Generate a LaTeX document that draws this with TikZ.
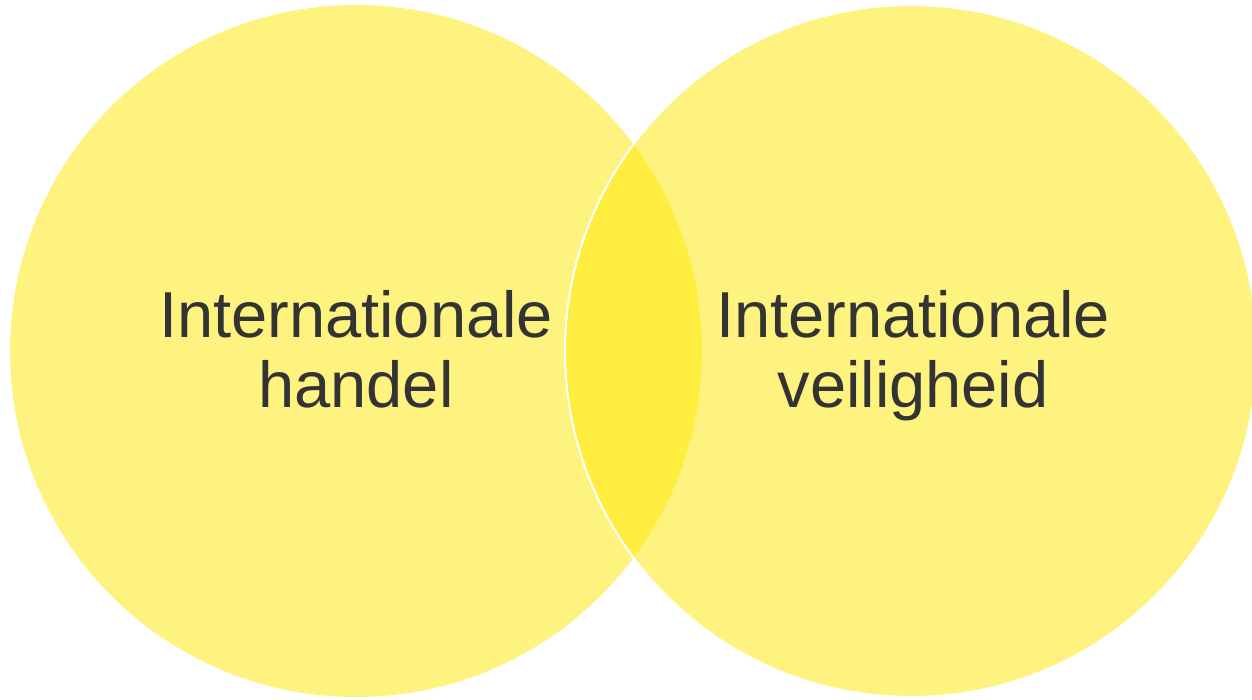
\documentclass[tikz,border=0pt]{standalone}
\usepackage{fontspec}
\setmainfont{Liberation Sans}
\definecolor{venn}{RGB}{255,231,0}
\definecolor{txt}{RGB}{51,51,51}
\begin{document}
\begin{tikzpicture}[x=1pt,y=-1pt,
  setcircle/.style={fill=venn,fill opacity=0.5},
  label/.style={align=center,text=txt,inner sep=0pt,font=\fontsize{65}{70}\selectfont,anchor=base}]
\useasboundingbox (0,0) rectangle (1252,699);
\fill[setcircle] (356,351) circle[radius=346];
\filldraw[setcircle,draw=white,line width=2pt] (911,351) circle[radius=346];
\node[label] (a) at (356,407) {Internationale\\handel};
\node[label] (b) at (913,407) {Internationale\\veiligheid};
\end{tikzpicture}
\end{document}
